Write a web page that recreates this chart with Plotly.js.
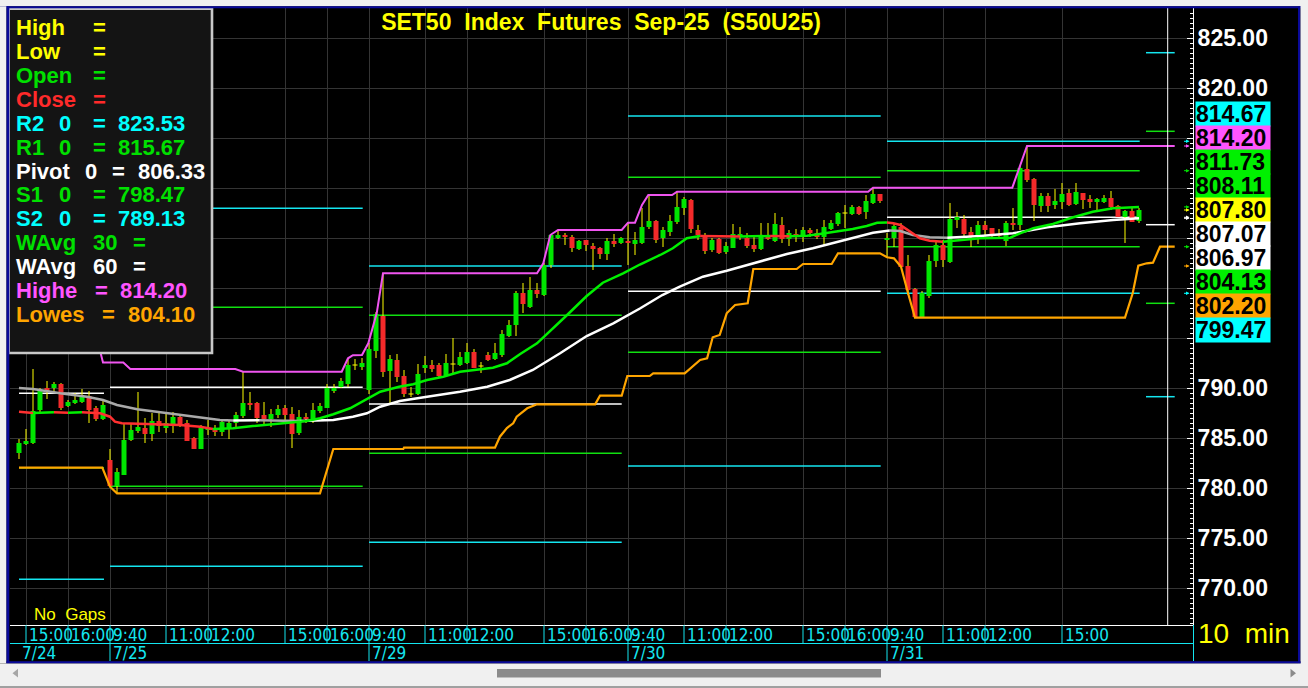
<!DOCTYPE html>
<html><head><meta charset="utf-8">
<script src="https://cdn.plot.ly/plotly-3.0.1.min.js"></script>
<style>html,body{margin:0;padding:0;background:#f0f0f0;overflow:hidden}</style>
</head><body><div id="chart" style="width:1308px;height:688px"></div>
<script>
// ---------------- DATA ----------------
const dayLabels = ['7/24', '7/25', '7/29', '7/30', '7/31'];
const dayStartIdx = [-13, 0, 37, 74, 111];
// [open, high, low, close] per 10-min bar
const bars724 = [
 [783.5,784.9,782.9,784.5],[784.4,785.9,784.3,784.7],[784.5,791.9,784.4,787.7],[787.8,790.0,787.6,789.7],
 [790.0,790.7,788.9,789.7],[790.0,790.6,789.6,790.4],[790.4,790.5,787.8,788.0],[788.2,788.8,788.1,788.6],
 [788.5,789.5,788.4,788.8],[788.6,789.9,788.5,789.1],[789.2,789.7,786.5,787.8],[788.0,788.2,786.7,786.9],
 [786.9,788.9,786.8,788.3]];
const bars725 = [
 [782.8,783.9,780.1,780.2],[780.2,782.0,779.5,781.6],[781.3,786.5,781.3,784.8],[784.8,786.4,784.7,785.8],
 [785.7,789.6,785.5,786.1],[786.0,787.0,784.5,785.4],[785.4,787.5,784.7,786.7],[786.7,787.5,785.6,786.2],
 [786.0,787.5,785.5,786.5],[786.3,787.6,785.5,787.1],[787.1,787.3,786.1,786.2],[786.5,786.8,784.7,784.7],
 [785.0,785.1,783.9,783.9],[783.9,786.3,783.9,786.0],[785.8,786.8,785.3,786.0],[786.0,786.3,785.2,785.6],
 [785.6,786.8,785.2,786.6],[785.9,786.8,784.9,786.5],[786.5,787.6,786.0,787.3],[787.2,791.6,787.0,788.5],
 [788.5,789.6,787.8,788.3],[788.5,788.6,786.5,787.0],[787.3,788.6,786.3,786.9],[786.9,787.9,786.1,787.4],
 [787.3,788.3,787.0,787.9],[788.0,788.3,786.8,787.3],[787.4,788.1,784.0,785.4],[785.5,787.8,785.3,787.1],
 [787.1,787.5,786.5,786.9],[786.7,788.5,786.5,787.8],[787.7,788.5,787.5,788.2],[788.0,790.4,788.0,790.0],
 [789.7,790.4,789.5,790.0],[790.1,791.0,790.0,790.7],[790.4,792.9,790.1,792.3],[792.3,792.9,791.8,792.3],
 [792.1,793.0,791.8,792.5]];
const bars729 = [
 [789.8,794.5,789.4,793.9],[793.7,797.6,793.0,797.4],[797.2,801.4,791.1,791.6],[791.7,793.3,788.5,792.9],
 [792.8,793.4,790.6,791.1],[791.2,791.8,789.1,789.4],[789.4,790.1,789.1,789.4],[789.4,792.4,789.3,791.4],
 [792.0,793.2,791.5,792.3],[792.3,792.8,791.6,791.9],[792.3,792.5,791.1,791.2],[791.3,793.4,791.2,792.5],
 [792.4,795.0,791.5,792.4],[792.3,793.6,792.2,793.1],[792.5,794.5,792.4,793.6],[793.6,793.9,792.0,792.0],
 [792.2,792.6,791.5,792.2],[793.3,793.6,792.7,792.8],[792.9,794.5,792.8,793.5],[793.3,795.8,793.1,795.4],
 [795.2,796.8,795.1,796.3],[796.3,799.7,795.2,799.5],[799.5,800.5,797.5,798.4],[798.1,801.1,798.0,799.8],
 [799.8,800.5,799.0,799.4],[799.3,802.5,799.2,802.3],[802.3,805.4,802.0,805.3],[805.0,805.8,804.9,805.3],
 [805.3,805.5,804.3,805.1],[805.1,805.3,803.6,804.0],[803.9,804.8,803.8,804.7],[804.8,804.8,803.7,804.3],
 [804.2,804.5,801.8,803.9],[804.0,804.1,802.9,803.4],[803.4,805.0,802.8,804.7],[804.7,805.4,804.1,804.4],
 [804.5,805.1,804.4,805.0]];
const bars730 = [
 [804.7,806.5,802.3,804.5],[804.4,805.6,803.3,804.8],[804.5,808.0,804.4,806.1],[806.1,809.3,805.9,806.7],
 [806.7,806.8,804.5,804.8],[805.0,806.1,804.1,805.8],[805.6,807.3,805.2,806.7],[806.6,809.6,806.4,808.1],
 [808.0,809.1,807.3,808.9],[808.8,808.9,805.5,805.9],[805.8,806.3,804.8,805.3],[805.3,805.5,803.4,803.7],
 [803.8,805.0,803.6,804.8],[804.9,805.0,803.4,803.5],[803.6,804.6,803.4,804.2],[804.0,806.4,804.0,805.4],
 [805.1,806.1,804.8,805.4],[805.0,805.5,804.0,804.2],[804.3,805.3,803.6,803.9],[803.9,806.5,803.8,805.1],
 [805.2,806.5,804.8,804.9],[804.7,807.5,804.6,806.4],[806.3,807.1,804.5,804.9],[804.9,805.8,804.2,805.5],
 [805.4,805.9,804.6,805.2],[805.1,806.1,804.6,805.8],[805.8,806.0,805.1,805.5],[805.5,805.9,804.9,805.1],
 [805.1,806.8,804.2,806.1],[805.9,806.8,805.8,806.5],[806.4,807.6,806.2,807.5],[807.5,808.3,806.0,807.5],
 [807.4,808.3,807.3,808.1],[808.1,808.2,807.3,807.4],[807.6,809.3,806.9,808.7],[808.5,810.0,808.4,809.4],
 [809.4,809.4,808.5,808.7]];
const bars731 = [
 [804.8,805.5,803.1,805.0],[805.0,806.5,804.1,806.2],[806.1,806.5,802.1,802.1],[802.2,803.3,799.3,799.8],
 [799.9,800.0,797.0,797.1],[797.1,799.7,797.0,799.5],[799.2,803.3,799.0,802.7],[802.7,804.8,802.1,804.3],
 [804.3,804.8,802.1,802.8],[802.6,808.5,802.5,806.9],[806.8,807.6,806.0,807.1],[806.9,807.3,805.1,805.4],
 [805.6,806.1,804.1,805.1],[805.1,806.7,804.4,806.3],[806.3,806.7,805.3,805.8],[806.0,806.0,805.1,805.2],
 [805.4,805.9,804.9,805.2],[804.7,806.7,804.2,806.5],[806.5,808.0,805.8,806.3],[806.3,812.2,805.8,812.0],
 [811.9,814.2,810.6,810.8],[810.9,811.0,806.7,808.3],[808.2,809.5,807.6,809.2],[809.2,809.5,807.6,808.2],
 [808.3,809.9,807.9,808.7],[808.6,810.5,807.9,809.4],[809.5,809.9,808.2,808.3],[808.4,810.5,808.3,809.6],
 [809.5,809.5,807.9,808.8],[808.9,809.3,808.0,808.6],[808.6,809.0,807.8,808.9],[808.6,809.3,808.5,809.0],
 [809.0,809.7,807.8,808.1],[808.2,808.3,807.1,807.1],[807.1,807.8,804.5,807.7],[807.7,808.1,806.6,806.6],
 [806.7,808.0,806.5,807.8]];
const dayBars = [bars724, bars725, bars729, bars730, bars731];

// Weighted averages (vertices along the drawn line; x = bar index)
const wavg30X = [-13,-11,-8,-6,-4,-1.4,0,0.7,1.7,5.7,10,12.9,14.7,17.6,20.4,24.7,28.1,30,31.9,34.3,36.7,38.6,41.3,43.3,45.3,47.6,50,52.4,54.7,56.7,58.6,61,62.9,65.3,68.1,70.4,73.3,75.7,78.6,80.4,82.4,84.3,90,94.3,97.1,99.6,101.4,103.9,106.1,108.1,109.6,111,111.9,112.9,114.3,115.7,117.1,119,122.4,124.3,128.6,130,131.9,134.7,137.6,140.4,143.3,147];
const wavg30Y = [787.63,787.5,787.57,787.53,787.57,787.47,787.13,786.63,786.47,786.4,786.3,786.13,785.9,785.97,786.2,786.47,786.7,786.97,787.37,787.97,788.87,789.63,790.13,790.37,790.8,791.13,791.63,791.8,792.03,792.47,793.4,794.47,795.7,797.3,799.2,800.53,801.47,802.35,803.3,803.97,804.97,805.2,805.15,805.2,805.17,805.22,805.4,805.63,805.9,806.2,806.53,806.55,806.47,806.3,805.63,804.97,804.73,804.63,804.8,804.97,805.03,805.47,805.97,806.4,807.07,807.63,807.97,808.11];
const wavg60X = [-13,-11,-7.1,-3.3,-1,1,3.9,8.1,11.9,15.7,17.6,21.4,24.7,27.1,29.6,31.9,34.7,36.7,38.6,41.4,45.3,50,53.9,57.1,60.4,64.3,68.1,71.9,75.7,78.9,81.4,84.7,88.1,91.9,96.7,100.4,105.3,109,111.4,112.9,114.7,117.1,119.6,124.3,129,133.9,138.6,143.3,147];
const wavg60Y = [790.0,789.9,789.47,789.13,788.8,788.3,787.87,787.47,787.13,786.8,786.75,786.78,786.72,786.7,786.75,786.8,787.13,787.47,788.13,788.7,789.13,789.63,790.13,790.8,791.8,793.47,795.2,796.47,797.95,799.3,800.13,801.13,801.73,802.47,803.4,803.97,804.87,805.53,805.75,805.7,805.3,805.07,805.03,805.2,805.47,806.07,806.47,806.8,806.97];
// Highest / Lowest (30 bars)
const highestX = [-13,-1.7,-1,1.9,2.9,17.9,19,33.1,34,34.7,36,36.9,38.1,39,61,61.9,62.9,64,73.1,74,75,76,76.9,80.3,81,108.3,109,128.9,131,152.1];
const highestY = [794.5,794.5,792.55,792.55,791.9,791.9,791.63,791.63,792.97,793.28,793.3,794.47,797.47,801.47,801.47,802.47,805.3,805.8,805.8,806.53,806.53,808.3,809.3,809.3,809.63,809.63,810.03,810.03,814.2,814.2];
const lowestX = [-13,-1.1,0,1,30,31.9,41.9,42,55,55.7,56.7,57.6,58.1,59.6,61,69.3,70,73.1,73.9,77.1,77.6,82.1,84.3,85.3,86.1,87.1,88.1,89.3,91.1,91.9,98.1,99,103.1,104,110,111,112,113,114,115,145,146.1,146.9,148.1,149,150,152.1];
const lowestY = [782.03,782.03,780.13,779.47,779.47,783.9,783.9,784.03,784.03,785.13,786.0,786.47,787.13,787.97,788.37,788.37,789.23,789.23,791.2,791.2,791.47,791.47,792.8,792.97,795.07,795.3,797.47,798.3,798.47,801.9,801.9,802.4,802.4,803.47,803.47,803.07,802.97,802.13,799.5,797.03,797.03,799.47,802.23,802.47,802.53,804.13,804.13];

// Daily pivot levels (last entry = next session)
const pivotStart = [-13, 0, 37, 74, 111, 148];
const pivotEnd   = [-0.86, 36.1, 73.1, 110.1, 147.1, 152.1];
const pivotR2 = [808.07, 807.97, 802.2, 817.2, 814.67, 823.53];
const pivotR1 = [800.63, 798.07, 797.27, 811.07, 811.73, 815.67];
const pivotPP = [789.47, 790.07, 788.4, 799.67, 807.07, 806.33];
const pivotS1 = [782.03, 780.17, 783.47, 793.57, 804.13, 798.47];
const pivotS2 = [770.87, 772.17, 774.57, 782.2, 799.47, 789.13];

// Time axis labels
const timeLabelIdx  = [-12,-6, 0,8,14,25,31, 37,45,51,62,68, 74,82,88,99,105, 111,119,125,136];
const timeLabelText = ['15:00','16:00','9:40','11:00','12:00','15:00','16:00','9:40','11:00','12:00','15:00','16:00','9:40','11:00','12:00','15:00','16:00','9:40','11:00','12:00','15:00'];
const currentIdx = 151.1;

// Price axis ticks (labels 795-815 are hidden behind the value boxes)
const priceTicks = [770, 775, 780, 785, 790, 795, 800, 805, 810, 815, 820, 825];
const priceTickShown = [true, true, true, true, true, false, false, false, false, false, true, true];

// Right-side value labels
const sideLabelValues = [814.67, 814.20, 811.73, 808.11, 807.80, 807.07, 806.97, 804.13, 802.20, 799.47];
const sideLabelColors = ['#00ffff','#ff55ff','#00f000','#00f000','#ffff00','#ffffff','#ffffff','#00f000','#ffa500','#00ffff'];

// Info box
const legendNames  = ['High','Low','Open','Close','R2','R1','Pivot','S1','S2','WAvg','WAvg','Highe','Lowes'];
const legendParams = ['','','','','0','0','0','0','0','30','60','',''];
const legendValues = ['','','','','823.53','815.67','806.33','798.47','789.13','','','814.20','804.10'];
const legendColors = ['#ffff00','#ffff00','#00e000','#ff2a2a','#00ffff','#00e000','#ffffff','#00e000','#00ffff','#00e000','#ffffff','#ff55ff','#ffa500'];

// ---------------- GEOMETRY HELPERS ----------------
const L = 10, R = 1193, T = 8, B = 625;
const PX0 = 110, BW = 7;
const xRange = [(L - PX0) / BW, (R - PX0) / BW];
const yRange = [766.3, 828.0];
const idxPx = i => PX0 + BW * i;
const pX = px => (px - L) / (R - L);
const pY = py => (B - py) / (B - T);

const GREEN = '#00e600', RED = '#f42a2a', YEL = '#ffff00', CYAN = '#14e6f0', PIVG = '#10e010';
const SANS = 'Liberation Sans, Arial, Helvetica, sans-serif';
const NARROW = 'Liberation Sans Narrow, Arial Narrow, DejaVu Sans Condensed, sans-serif';

const traces = [];

// pivot lines
function levelTrace(levels, color) {
  const x = [], y = [];
  levels.forEach((v, j) => { x.push(pivotStart[j], pivotEnd[j], null); y.push(v, v, null); });
  return {type:'scatter', mode:'lines', x, y, line:{color, width:1.5}, hoverinfo:'skip'};
}
traces.push(levelTrace(pivotR2, CYAN), levelTrace(pivotS2, CYAN), levelTrace(pivotR1, PIVG), levelTrace(pivotS1, PIVG), levelTrace(pivotPP, '#ffffff'));

// candles
const wx = [], wy = [], ux = [], uy = [], dx = [], dy = [];
dayBars.forEach((bars, d) => bars.forEach((b, k) => {
  const i = dayStartIdx[d] + k, [o, h, l, c] = b;
  wx.push(i, i, null); wy.push(l, h, null);
  if (o === c) { wx.push(i - 0.36, i + 0.36, null); wy.push(o, o, null); }
  else if (c > o) { ux.push(i, i, null); uy.push(o, c, null); }
  else { dx.push(i, i, null); dy.push(c, o, null); }
}));
traces.push({type:'scatter', mode:'lines', x:wx, y:wy, line:{color:YEL, width:1}, hoverinfo:'skip'});
traces.push({type:'scatter', mode:'lines', x:ux, y:uy, line:{color:GREEN, width:5}, hoverinfo:'skip'});
traces.push({type:'scatter', mode:'lines', x:dx, y:dy, line:{color:RED, width:5}, hoverinfo:'skip'});

// direction-coloured averages
function dirTraces(xs, ys, up, dn, width) {
  const out = []; let cur = null;
  for (let j = 1; j < xs.length; j++) {
    const col = ys[j] >= ys[j - 1] ? up : dn;
    if (!cur || cur.line.color !== col) {
      cur = {type:'scatter', mode:'lines', x:[xs[j-1]], y:[ys[j-1]], line:{color:col, width}, hoverinfo:'skip'};
      out.push(cur);
    }
    cur.x.push(xs[j]); cur.y.push(ys[j]);
  }
  return out;
}
traces.push(...dirTraces(wavg60X, wavg60Y, '#ffffff', '#a9a9a9', 2.5));
traces.push(...dirTraces(wavg30X, wavg30Y, '#00f000', '#ff3030', 2.5));
traces.push({type:'scatter', mode:'lines', x:highestX, y:highestY, line:{color:'#f055f0', width:2}, hoverinfo:'skip'});
traces.push({type:'scatter', mode:'lines', x:lowestX, y:lowestY, line:{color:'#ffa500', width:2.2}, hoverinfo:'skip'});

// ---------------- SHAPES ----------------
const shapes = [];
const rectP = (x0, y0, x1, y1, fill, layer) => ({type:'rect', xref:'paper', yref:'paper', x0:pX(x0), x1:pX(x1), y0:pY(y0), y1:pY(y1), fillcolor:fill, line:{width:0}, layer:layer || 'above'});
const lineP = (x0, y0, x1, y1, color, w) => ({type:'line', xref:'paper', yref:'paper', x0:pX(x0), x1:pX(x1), y0:pY(y0), y1:pY(y1), line:{color, width:w || 1}, layer:'above'});
// current-bar marker
shapes.push({type:'line', xref:'x', yref:'paper', x0:currentIdx, x1:currentIdx, y0:0, y1:1, line:{color:'#ffffff', width:1}, layer:'above'});
// x label area separators
shapes.push(lineP(L, 643.5, R, 643.5, CYAN, 1));
shapes.push(lineP(R + 0.5, 625, R + 0.5, 661, CYAN, 1));
timeLabelIdx.forEach(i => shapes.push(lineP(idxPx(i), 625, idxPx(i), 643.5, CYAN, 1)));
dayStartIdx.slice(1).forEach(i => shapes.push(lineP(idxPx(i), 643.5, idxPx(i), 661, CYAN, 1)));
// info box
shapes.push({type:'rect', xref:'paper', yref:'paper', x0:pX(8.7), x1:pX(212), y0:pY(8.7), y1:pY(353), fillcolor:'#141414', line:{color:'#c8c8c8', width:2.6}, layer:'above'});
// window frame
shapes.push(rectP(-2, -2, 1310, 6.3, '#f0f0f0'));
shapes.push(rectP(-2, 6.3, 1310, 8.3, '#0a0a9a'));
shapes.push(rectP(-2, 6.3, 6.5, 663.5, '#f0f0f0'));
shapes.push(rectP(6.5, 6.3, 9.3, 663.5, '#0a0a9a'));
shapes.push(rectP(1298, 6.3, 1300.5, 663.5, '#0a0a9a'));
shapes.push(rectP(1300.5, -2, 1310, 690, '#f0f0f0'));
shapes.push(rectP(6.5, 661.3, 1300.5, 663.5, '#0a0a9a'));
shapes.push(rectP(-2, 663.5, 1310, 690, '#f0f0f0'));
shapes.push(rectP(-2, 686, 1310, 690, '#a0a0a0'));
shapes.push(rectP(497, 669, 881, 677.5, '#8b8b8b'));
const triP = (pts, fill) => ({type:'path', xref:'paper', yref:'paper', path:'M' + pts.map(p => pX(p[0]) + ',' + pY(p[1])).join(' L') + ' Z', fillcolor:fill, line:{width:0}, layer:'above'});
shapes.push(triP([[12.5,673.2],[18,668.8],[18,677.6]], '#a6a6a6'));
shapes.push(triP([[1296,673.2],[1290.5,668.8],[1290.5,677.6]], '#8b8b8b'));

// ---------------- ANNOTATIONS ----------------
const ann = [];
const txt = (text, x, y, color, size, opts) => Object.assign({xref:'paper', yref:'paper', x:pX(x), y:pY(y), xanchor:'left', yanchor:'middle', text, showarrow:false, borderpad:0, font:{family:SANS, size, color}}, opts || {});
// time + date labels
timeLabelIdx.forEach((i, j) => ann.push(txt(timeLabelText[j], idxPx(i) + 1.5, 634.5, CYAN, 17, {font:{family:NARROW, size:17, color:CYAN}})));
dayLabels.forEach((d, j) => {
  const px = j === 0 ? 21 : idxPx(dayStartIdx[j]) + 1.5;
  ann.push(txt(d, px, 653, CYAN, 17, {font:{family:NARROW, size:17, color:CYAN}}));
});
// info box rows
const paramX = {R2:58, R1:58, S1:58, S2:58, Pivot:84, WAvg:92};
const eqX = {Pivot:111, WAvg:132, Highe:94, Lowes:101};
const valX = {Pivot:137, Highe:119, Lowes:127};
legendNames.forEach((n, k) => {
  const y = 27.6 + 23.9 * k, col = legendColors[k];
  const f = {family:SANS, size:22, color:col, weight:700};
  ann.push(txt(n, 15, y, col, 22, {font:f}));
  if (legendParams[k]) ann.push(txt(legendParams[k], paramX[n], y, col, 22, {font:f}));
  ann.push(txt('=', eqX[n] || 92, y, col, 22, {font:f}));
  if (legendValues[k]) ann.push(txt(legendValues[k], valX[n] || 117, y, col, 22, {font:f}));
});
// right side coloured value boxes
sideLabelValues.forEach((v, j) => {
  ann.push(txt(v.toFixed(2), 1195, 102 + 24 * j + 12, '#000', 23, {bgcolor:sideLabelColors[j], width:74, height:24, align:'left', font:{family:SANS, size:23, color:'#000', weight:700}}));
  ann.push({xref:'paper', yref:'y', x:pX(1189.5), y:v, ax:-7, ay:0, text:'', showarrow:true, arrowhead:2, arrowsize:0.7, arrowwidth:1, arrowcolor:sideLabelColors[j] === '#00f000' ? '#00e000' : sideLabelColors[j]});
});
ann.push(txt('No\u00a0 Gaps', 33, 614, '#ffff00', 17, {font:{family:SANS, size:17, color:'#ffff00'}}));
ann.push(txt('10\u00a0 min', 1197, 633, '#ffff00', 28, {font:{family:SANS, size:28, color:'#ffff00'}}));

const layout = {
  width:1308, height:688,
  margin:{l:L, r:1308 - R, t:T, b:688 - B, pad:0},
  paper_bgcolor:'#000000', plot_bgcolor:'#000000',
  showlegend:false, dragmode:false, hovermode:false,
  title:{text:'SET50\u00a0 Index\u00a0 Futures\u00a0 Sep-25\u00a0 (S50U25)', xref:'container', yref:'container', x:601/1308, xanchor:'center', y:1 - 22/688, yanchor:'middle', font:{family:SANS, size:23, color:'#ffff00', weight:700}},
  xaxis:{range:xRange, tickvals:timeLabelIdx, showticklabels:false, ticks:'', showgrid:true, gridcolor:'#343434', gridwidth:1, zeroline:false, showline:true, linecolor:'#ffffff', linewidth:1, fixedrange:true},
  yaxis:{side:'right', range:yRange, tickmode:'array', tickvals:priceTicks, ticktext:priceTicks.map((v, j) => priceTickShown[j] ? v.toFixed(2) : ''), showgrid:true, gridcolor:'#343434', gridwidth:1, zeroline:false, showline:true, linecolor:'#ffffff', linewidth:1, ticks:'inside', ticklen:6, tickcolor:'#ffffff', ticklabelstandoff:-1,
    minor:{tickmode:'linear', tick0:770, dtick:0.5, ticks:'inside', ticklen:3, tickcolor:'#ffffff', showgrid:false},
    tickfont:{family:SANS, size:23, color:'#ffffff', weight:700}, fixedrange:true},
  shapes, annotations:ann
};
Plotly.newPlot('chart', traces, layout, {displayModeBar:false, staticPlot:true});
</script></body></html>
